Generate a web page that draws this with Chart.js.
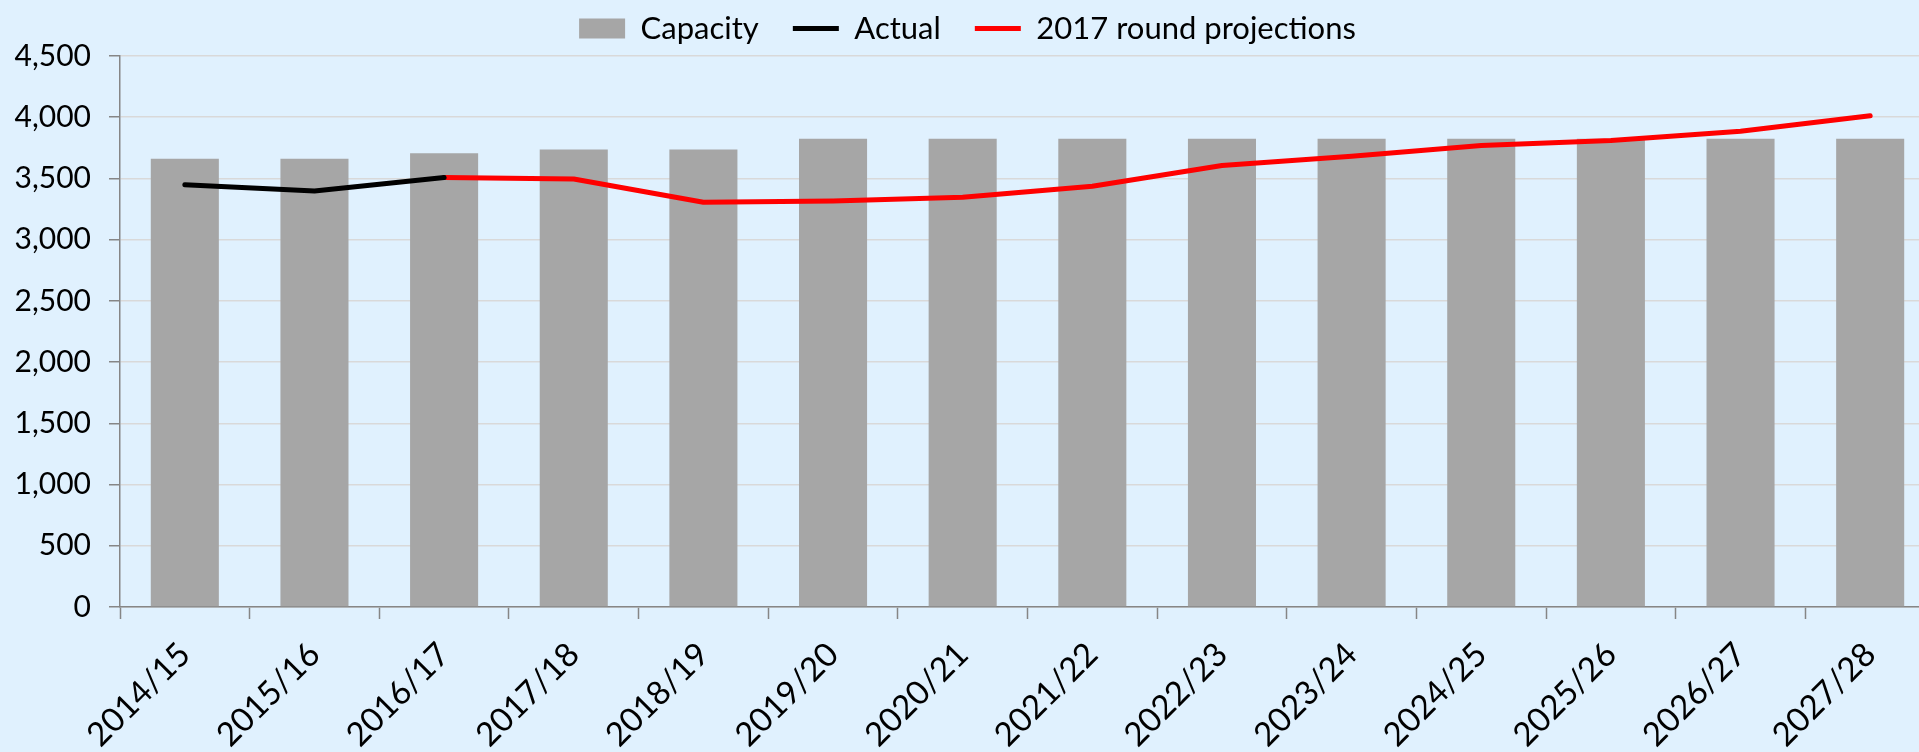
<!DOCTYPE html>
<html>
<head>
<meta charset="utf-8">
<script src="https://cdn.jsdelivr.net/npm/chart.js@4"></script>
<style>
  html, body { margin: 0; padding: 0; background: #e0f1fe; overflow: hidden; }
  #wrap { width: 1935px; height: 752px; }
</style>
</head>
<body>
<div id="wrap"><canvas id="myChart"></canvas></div>
<script>
let years = ["2014/15", "2015/16", "2016/17", "2017/18", "2018/19", "2019/20", "2020/21",
    "2021/22", "2022/23", "2023/24", "2024/25", "2025/26", "2026/27", "2027/28"];
let capacity = [3660, 3660, 3705, 3736, 3736, 3825, 3825, 3825, 3825, 3825, 3825, 3825, 3825, 3825];
let actual = [3449, 3398, 3507, null, null, null, null, null, null, null, null, null, null, null];
let projections = [null, null, 3507, 3496, 3306, 3316, 3346, 3436, 3605, 3682, 3769, 3810, 3886, 4012];
let yTicks = [0, 500, 1000, 1500, 2000, 2500, 3000, 3500, 4000, 4500];

Chart.defaults.font.family = "Lato, 'Open Sans', sans-serif";
Chart.defaults.font.size = 30;
Chart.defaults.color = "#000000";

// make the legend a bit taller so the plot starts where it should
let legendHeight = {
    id: "legendHeight",
    beforeInit: (chart) => {
        let fit = chart.legend.fit;
        chart.legend.fit = function () {
            fit.bind(chart.legend)();
            this.height = 77;
        };
    },
};

let drawChart = () => {
    var ctx = document.getElementById("myChart").getContext("2d");
    var myChart = new Chart(ctx, {
        type: "bar",
        data: {
            labels: years,
            datasets: [
                {
                    label: "Capacity",
                    data: capacity,
                    backgroundColor: "#a6a6a6",
                    borderWidth: 0,
                    barPercentage: 0.525,
                    categoryPercentage: 1,
                    pointStyle: "rect",
                    order: 2,
                },
                {
                    type: "line",
                    label: "Actual",
                    data: actual,
                    borderColor: "#000000",
                    backgroundColor: "#000000",
                    borderWidth: 5,
                    pointRadius: 0,
                    tension: 0,
                    borderCapStyle: "round",
                    borderJoinStyle: "round",
                    pointStyle: "line",
                    order: 1,
                },
                {
                    type: "line",
                    label: "2017 round projections",
                    data: projections,
                    borderColor: "#ff0000",
                    backgroundColor: "#ff0000",
                    borderWidth: 5,
                    pointRadius: 0,
                    tension: 0,
                    borderCapStyle: "round",
                    borderJoinStyle: "round",
                    pointStyle: "line",
                    order: 1,
                },
            ],
        },
        options: {
            responsive: true,
            maintainAspectRatio: false,
            animation: false,
            layout: {
                padding: { top: -21, left: 0, right: 0, bottom: 0 },
            },
            plugins: {
                tooltip: { enabled: false },
                legend: {
                    position: "top",
                    labels: {
                        usePointStyle: true,
                        pointStyleWidth: 46,
                        boxHeight: 20,
                        padding: 34,
                        font: { size: 31 },
                        sort: (a, b) => a.datasetIndex - b.datasetIndex,
                    },
                },
            },
            scales: {
                x: {
                    offset: true,
                    grid: {
                        offset: true,
                        drawOnChartArea: false,
                        tickLength: 12,
                        tickColor: "#868686",
                        tickWidth: 1.5,
                    },
                    border: { color: "#868686", width: 1.5 },
                    ticks: {
                        minRotation: 45,
                        maxRotation: 45,
                        autoSkip: false,
                        padding: 16,
                        font: { size: 33 },
                    },
                    afterFit: (scale) => {
                        scale.height = 145;
                    },
                },
                y: {
                    min: 0,
                    max: 4500,
                    afterBuildTicks: (scale) => {
                        scale.ticks = yTicks.map((v) => ({ value: v }));
                    },
                    grid: {
                        color: "#d9d9d9",
                        lineWidth: 1.5,
                        tickLength: 11,
                        tickColor: "#868686",
                        tickWidth: 1.5,
                    },
                    border: { color: "#868686", width: 1.5 },
                    ticks: {
                        padding: 18,
                    },
                    afterFit: (scale) => {
                        scale.width = 120;
                    },
                },
            },
        },
        plugins: [legendHeight],
    });
};
drawChart();
</script>
</body>
</html>
